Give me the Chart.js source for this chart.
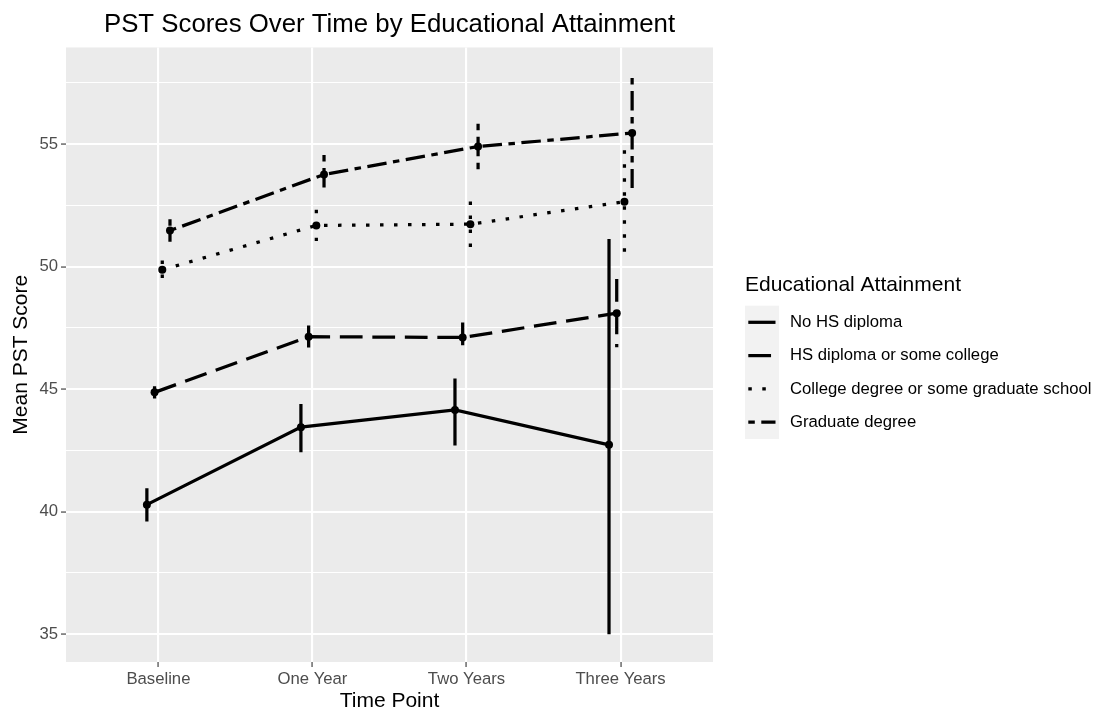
<!DOCTYPE html>
<html>
<head>
<meta charset="utf-8">
<script src="https://cdn.jsdelivr.net/npm/chart.js@4.4.1/dist/chart.umd.min.js"></script>
<style>
  html, body { margin: 0; padding: 0; background: #fff; }
</style>
</head>
<body>
<canvas id="myChart" width="1100" height="712"></canvas>
<script>
const timePoints = ['Baseline', 'One Year', 'Two Years', 'Three Years'];
const seriesNames = ['No HS diploma', 'HS diploma or some college', 'College degree or some graduate school', 'Graduate degree'];

const noHsMean = [40.29, 43.45, 44.15, 42.73];
const noHsLow = [39.60, 42.43, 42.70, 35.00];
const noHsHigh = [40.96, 44.40, 45.44, 51.13];

const hsMean = [44.87, 47.14, 47.11, 48.10];
const hsLow = [44.62, 46.70, 46.50, 46.71];
const hsHigh = [45.12, 47.60, 47.72, 49.49];

const collegeMean = [49.87, 51.68, 51.73, 52.65];
const collegeLow = [49.49, 51.04, 50.80, 50.55];
const collegeHigh = [50.25, 52.32, 52.66, 54.75];

const gradMean = [51.47, 53.76, 54.90, 55.45];
const gradLow = [51.01, 52.97, 53.97, 53.21];
const gradHigh = [51.93, 54.55, 55.83, 57.69];

const yGridTicks = [35, 37.5, 40, 42.5, 45, 47.5, 50, 52.5, 55, 57.5];
const yLabelTicks = [35, 40, 45, 50, 55];

// styling
const FONT = "'Liberation Sans', Arial, sans-serif";
const LW = 3.25;
const dashes = [[], [22.75, 9.75], [3.5, 10.5], [6.5, 6.5, 19.5, 6.5]];
const dodge = [-0.075, -0.025, 0.025, 0.075];

const means = [noHsMean, hsMean, collegeMean, gradMean];
const lows = [noHsLow, hsLow, collegeLow, gradLow];
const highs = [noHsHigh, hsHigh, collegeHigh, gradHigh];

const datasets = [];
means.forEach((m, s) => {
  datasets.push({
    label: seriesNames[s],
    data: m.map((v, i) => ({ x: i + dodge[s], y: v })),
    borderColor: '#000',
    borderWidth: LW,
    borderDash: dashes[s],
    borderCapStyle: 'butt',
    pointRadius: 4,
    pointBackgroundColor: '#000',
    pointBorderWidth: 0,
    tension: 0
  });
});
// error bars: one dataset per group, separated by gaps
means.forEach((m, s) => {
  const pts = [];
  m.forEach((v, i) => {
    pts.push({ x: i + dodge[s], y: highs[s][i] });
    pts.push({ x: i + dodge[s], y: lows[s][i] });
    pts.push({ x: i + dodge[s], y: null });
  });
  datasets.push({
    label: seriesNames[s] + ' CI',
    data: pts,
    borderColor: '#000',
    borderWidth: LW,
    borderDash: dashes[s],
    borderCapStyle: 'butt',
    pointRadius: 0,
    spanGaps: false,
    tension: 0
  });
});

const panelBg = {
  id: 'panelBg',
  beforeDraw(c) {
    const a = c.chartArea;
    c.ctx.save();
    c.ctx.fillStyle = '#EBEBEB';
    c.ctx.fillRect(a.left, a.top, a.right - a.left, a.bottom - a.top);
    c.ctx.restore();
  }
};

const ggLegend = {
  id: 'ggLegend',
  afterDraw(c) {
    const ctx = c.ctx;
    ctx.save();
    ctx.fillStyle = '#000';
    ctx.textBaseline = 'middle';
    ctx.textAlign = 'left';
    ctx.font = '21px ' + FONT;
    ctx.fillText('Educational Attainment', 745, 285);
    ctx.fillStyle = '#F2F2F2';
    ctx.fillRect(745, 305.7, 34, 133.3);
    seriesNames.forEach((name, s) => {
      const y = 322.3 + s * 33.3;
      ctx.strokeStyle = '#000';
      ctx.lineWidth = LW;
      ctx.lineCap = 'butt';
      ctx.setLineDash(dashes[s]);
      ctx.beginPath();
      ctx.moveTo(748.3, y);
      ctx.lineTo(775.5, y);
      ctx.stroke();
      ctx.setLineDash([]);
      ctx.fillStyle = '#000';
      ctx.font = '16.7px ' + FONT;
      ctx.fillText(name, 790, y);
    });
    ctx.restore();
  }
};

const ctx = document.getElementById('myChart').getContext('2d');
const chart = new Chart(ctx, {
  type: 'line',
  data: { datasets: datasets },
  options: {
    responsive: false,
    animation: false,
    events: [],
    layout: { padding: { left: 0, right: 387, top: 0, bottom: 0 } },
    plugins: {
      legend: { display: false },
      tooltip: { enabled: false },
      title: {
        display: true,
        text: 'PST Scores Over Time by Educational Attainment',
        color: '#000',
        fullSize: false,
        font: { family: FONT, size: 25.8, weight: 'normal', lineHeight: 1.2 },
        padding: { top: 9.5, bottom: 7.0 }
      }
    },
    scales: {
      x: {
        type: 'linear',
        min: -0.6,
        max: 3.6,
        afterFit: s => { s.height = 50; },
        afterBuildTicks: s => { s.ticks = timePoints.map((t, i) => ({ value: i })); },
        border: { display: false },
        grid: { color: '#FFFFFF', lineWidth: 2.1, tickColor: '#333333', tickWidth: 1.1, tickLength: 5 },
        ticks: {
          callback: v => timePoints[v],
          color: '#4D4D4D',
          font: { family: FONT, size: 16.7 },
          padding: 2,
          autoSkip: false,
          maxRotation: 0
        },
        title: {
          display: true,
          text: 'Time Point',
          color: '#000',
          font: { family: FONT, size: 21, lineHeight: 1 },
          padding: { top: 0, bottom: 0 }
        }
      },
      y: {
        type: 'linear',
        min: 33.87,
        max: 58.94,
        afterFit: s => { s.width = 66; },
        afterBuildTicks: s => { s.ticks = yGridTicks.map(v => ({ value: v })); },
        border: { display: false },
        grid: {
          color: '#FFFFFF',
          lineWidth: c => (yLabelTicks.includes(c.tick.value) ? 2.1 : 1.1),
          tickColor: c => (yLabelTicks.includes(c.tick.value) ? '#333333' : 'rgba(0,0,0,0)'),
          tickWidth: 1.1,
          tickLength: 5
        },
        ticks: {
          callback: v => (yLabelTicks.includes(v) ? String(v) : ''),
          color: '#4D4D4D',
          font: { family: FONT, size: 16.7 },
          padding: 3,
          autoSkip: false
        },
        title: {
          display: true,
          text: 'Mean PST Score',
          color: '#000',
          font: { family: FONT, size: 21, lineHeight: 1 },
          padding: { top: 11, bottom: 0 }
        }
      }
    }
  },
  plugins: [panelBg, ggLegend]
});
</script>
</body>
</html>
